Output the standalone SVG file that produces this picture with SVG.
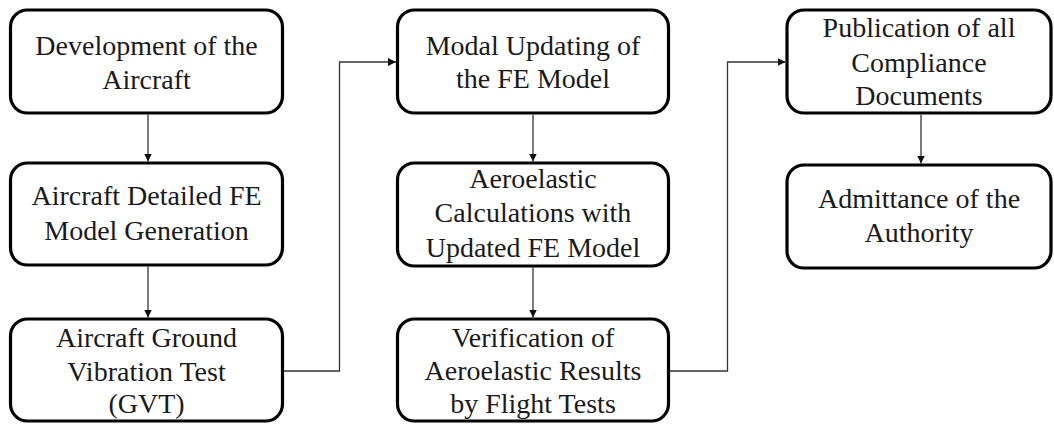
<svg xmlns="http://www.w3.org/2000/svg" width="1054" height="425" viewBox="0 0 1054 425">
  <style>
    .box { fill: #ffffff; stroke: #000000; stroke-width: 3.2; }
    .lbl { font-family: 'Liberation Serif', 'Tinos', 'Noto Serif', 'DejaVu Serif', 'FreeSerif', 'Times New Roman', Times, serif; font-size: 28px; fill: #1a1a1a; text-anchor: middle; }
    .link { fill: none; stroke: #333333; stroke-width: 1.3; marker-end: url(#arrow); }
  </style>
  <defs>
    <marker id="arrow" viewBox="0 0 10 10" refX="10" refY="5" markerWidth="8" markerHeight="8" markerUnits="userSpaceOnUse" orient="auto">
      <path d="M0,0 L10,5 L0,10 z" fill="#111111"/>
    </marker>
  </defs>

  <!-- process steps, first column -->
  <g id="node-development">
    <rect class="box" x="10.5" y="10" width="272" height="103" rx="17"/>
    <text class="lbl" x="146.5" y="55">Development of the</text>
    <text class="lbl" x="146.5" y="89">Aircraft</text>
  </g>
  <g id="node-fe-model">
    <rect class="box" x="10.5" y="163" width="272" height="102" rx="17"/>
    <text class="lbl" x="146.5" y="205">Aircraft Detailed FE</text>
    <text class="lbl" x="146.5" y="240">Model Generation</text>
  </g>
  <g id="node-gvt">
    <rect class="box" x="10.5" y="319" width="272" height="102" rx="17"/>
    <text class="lbl" x="146.5" y="347">Aircraft Ground</text>
    <text class="lbl" x="146.5" y="381">Vibration Test</text>
    <text class="lbl" x="146.5" y="413">(GVT)</text>
  </g>

  <!-- second column -->
  <g id="node-modal-updating">
    <rect class="box" x="397.5" y="10" width="271" height="103" rx="17"/>
    <text class="lbl" x="533" y="55">Modal Updating of</text>
    <text class="lbl" x="533" y="88">the FE Model</text>
  </g>
  <g id="node-aeroelastic-calc">
    <rect class="box" x="397.5" y="163" width="271" height="103" rx="17"/>
    <text class="lbl" x="533" y="188">Aeroelastic</text>
    <text class="lbl" x="533" y="222">Calculations with</text>
    <text class="lbl" x="533" y="257">Updated FE Model</text>
  </g>
  <g id="node-verification">
    <rect class="box" x="397.5" y="319" width="271" height="102" rx="17"/>
    <text class="lbl" x="533" y="347">Verification of</text>
    <text class="lbl" x="533" y="380">Aeroelastic Results</text>
    <text class="lbl" x="533" y="413">by Flight Tests</text>
  </g>

  <!-- third column -->
  <g id="node-publication">
    <rect class="box" x="787" y="10" width="264" height="103" rx="17"/>
    <text class="lbl" x="919" y="37">Publication of all</text>
    <text class="lbl" x="919" y="72">Compliance</text>
    <text class="lbl" x="919" y="105">Documents</text>
  </g>
  <g id="node-admittance">
    <rect class="box" x="787" y="165" width="264" height="103" rx="17"/>
    <text class="lbl" x="919" y="208">Admittance of the</text>
    <text class="lbl" x="919" y="242">Authority</text>
  </g>

  <!-- connectors -->
  <g id="connectors">
    <path class="link" d="M148,114.5 V161.5"/>
    <path class="link" d="M148,266.5 V317.5"/>
    <path class="link" d="M284,371 H339.5 V62 H396"/>
    <path class="link" d="M533,114.5 V161.5"/>
    <path class="link" d="M533,267.5 V317.5"/>
    <path class="link" d="M670,371 H727.5 V62 H785.5"/>
    <path class="link" d="M921,114.5 V163.5"/>
  </g>
</svg>
